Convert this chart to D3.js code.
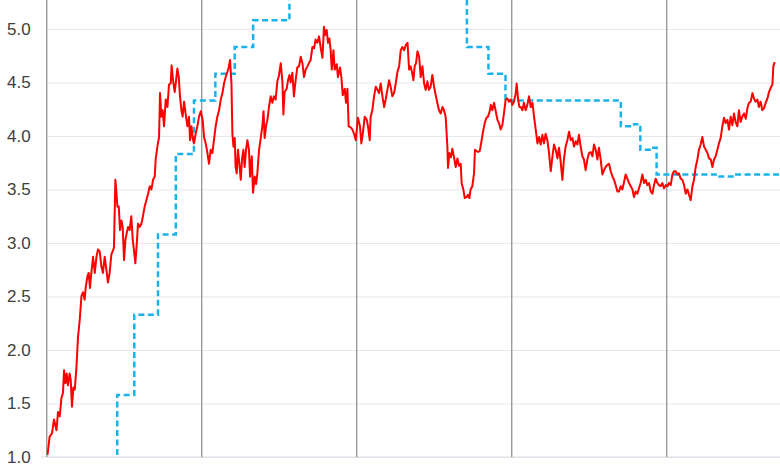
<!DOCTYPE html>
<html>
<head>
<meta charset="utf-8">
<script src="https://cdn.jsdelivr.net/npm/d3@7"></script>
<style>
  body { margin: 0; background: #fff; }
  svg { display: block; }
  .tick text { font-family: "Liberation Sans", Arial, sans-serif; font-size: 17px; fill: #404040; }
</style>
</head>
<body>
<svg id="chart" width="780" height="470"></svg>
<script>
'use strict';

// y axis ticks and year separators
const yTicks = [1.0, 1.5, 2.0, 2.5, 3.0, 3.5, 4.0, 4.5, 5.0];
const yearLines = [2023, 2024, 2025, 2026];

// policy rate (step line), decimal year of each change and the new level
const fedT = [2022.000, 2022.208, 2022.342, 2022.455, 2022.565, 2022.718, 2022.833, 2022.950,
  2023.088, 2023.213, 2023.332, 2023.566, 2024.711, 2024.850, 2024.960, 2025.704, 2025.790,
  2025.830, 2025.905, 2025.935, 2026.340, 2026.440, 2026.731];
const fedRate = [0.08, 0.33, 0.83, 1.58, 2.33, 3.08, 3.83, 4.33,
  4.58, 4.83, 5.08, 5.33, 4.83, 4.58, 4.33, 4.09, 4.11,
  3.87, 3.89, 3.64, 3.62, 3.64, 3.64];

// market yield, [decimal year, value]
const yieldPts = [
  [2022.005,1.02],[2022.019,1.19],[2022.034,1.22],[2022.047,1.35],[2022.063,1.25],[2022.073,1.42],[2022.084,1.38],[2022.095,1.55],
  [2022.105,1.60],[2022.112,1.81],[2022.121,1.69],[2022.129,1.78],[2022.137,1.67],[2022.148,1.78],[2022.155,1.72],[2022.163,1.47],
  [2022.172,1.65],[2022.181,1.63],[2022.192,1.84],[2022.202,2.12],[2022.213,2.28],[2022.224,2.50],[2022.234,2.54],[2022.245,2.47],
  [2022.252,2.59],[2022.263,2.69],[2022.271,2.72],[2022.279,2.58],[2022.288,2.72],[2022.299,2.87],[2022.310,2.72],[2022.321,2.87],
  [2022.331,2.94],[2022.342,2.92],[2022.353,2.78],[2022.363,2.72],[2022.374,2.87],[2022.385,2.75],[2022.395,2.63],[2022.406,2.72],
  [2022.417,2.89],[2022.428,2.93],[2022.434,2.96],[2022.443,3.59],[2022.450,3.47],[2022.456,3.34],[2022.465,3.34],[2022.473,3.12],
  [2022.482,3.21],[2022.490,3.15],[2022.499,2.84],[2022.508,3.03],[2022.516,3.09],[2022.525,3.15],[2022.535,3.12],[2022.546,3.25],
  [2022.555,3.03],[2022.563,2.93],[2022.572,2.81],[2022.581,2.99],[2022.589,3.18],[2022.600,3.15],[2022.611,3.18],[2022.621,3.25],
  [2022.632,3.34],[2022.643,3.40],[2022.654,3.46],[2022.665,3.53],[2022.676,3.50],[2022.686,3.59],[2022.697,3.62],
  [2022.703,3.78],[2022.714,3.90],[2022.725,3.99],[2022.731,4.40],[2022.740,4.18],[2022.748,4.24],[2022.757,4.09],[2022.768,4.34],
  [2022.779,4.27],[2022.789,4.48],[2022.800,4.49],[2022.806,4.66],[2022.815,4.52],[2022.826,4.41],[2022.837,4.55],[2022.843,4.63],
  [2022.852,4.55],[2022.860,4.37],[2022.869,4.24],[2022.877,4.18],[2022.886,4.32],[2022.897,4.20],[2022.908,4.09],[2022.918,4.18],
  [2022.925,3.96],[2022.934,4.09],[2022.942,3.98],[2022.950,3.93],[2022.961,4.02],[2022.972,4.09],[2022.983,4.18],[2022.994,4.23],
  [2023.006,4.15],[2023.015,3.99],[2023.026,3.93],[2023.037,3.84],[2023.047,3.74],[2023.058,3.87],[2023.069,3.84],[2023.079,3.96],
  [2023.090,4.09],[2023.101,4.18],[2023.112,4.24],[2023.123,4.34],[2023.134,4.40],[2023.144,4.49],[2023.155,4.55],[2023.166,4.60],
  [2023.174,4.64],[2023.183,4.71],[2023.192,4.49],[2023.198,4.02],[2023.205,3.90],[2023.213,3.98],[2023.219,3.71],[2023.226,3.65],
  [2023.234,3.87],[2023.243,3.74],[2023.252,3.59],[2023.260,3.78],[2023.269,3.87],[2023.277,3.71],[2023.286,3.87],[2023.295,3.96],
  [2023.305,3.87],[2023.312,3.62],[2023.323,3.81],[2023.331,3.47],[2023.342,3.62],[2023.351,3.55],[2023.359,3.65],[2023.370,3.87],
  [2023.381,3.98],[2023.392,4.10],[2023.399,4.23],[2023.406,3.98],[2023.415,4.09],[2023.424,4.15],[2023.434,4.27],[2023.445,4.37],
  [2023.456,4.31],[2023.466,4.37],[2023.477,4.34],[2023.488,4.51],[2023.498,4.56],[2023.510,4.68],[2023.521,4.50],[2023.527,4.20],
  [2023.535,4.41],[2023.548,4.44],[2023.557,4.52],[2023.566,4.57],[2023.574,4.50],[2023.585,4.59],[2023.595,4.37],[2023.606,4.52],
  [2023.617,4.64],[2023.628,4.65],[2023.639,4.74],[2023.650,4.68],[2023.660,4.55],[2023.671,4.62],[2023.682,4.65],[2023.692,4.68],
  [2023.703,4.71],[2023.714,4.83],[2023.725,4.82],[2023.735,4.90],[2023.746,4.87],[2023.757,4.93],[2023.768,4.82],[2023.779,4.73],
  [2023.789,5.02],[2023.795,4.94],[2023.806,4.99],[2023.815,4.87],[2023.824,4.91],[2023.832,4.80],[2023.839,4.62],[2023.850,4.80],
  [2023.858,4.62],[2023.871,4.67],[2023.879,4.55],[2023.892,4.64],[2023.901,4.55],[2023.910,4.38],[2023.923,4.44],[2023.931,4.31],
  [2023.940,4.44],[2023.948,4.09],[2023.961,4.08],[2023.972,4.06],[2023.983,4.02],[2023.994,3.96],[2024.008,4.17],[2024.021,4.09],
  [2024.030,3.93],[2024.039,4.02],[2024.052,4.18],[2024.065,4.15],[2024.073,4.09],[2024.084,3.96],[2024.090,4.18],[2024.101,4.24],
  [2024.112,4.37],[2024.123,4.46],[2024.134,4.43],[2024.144,4.40],[2024.155,4.49],[2024.166,4.37],[2024.177,4.27],[2024.187,4.34],
  [2024.198,4.43],[2024.209,4.52],[2024.219,4.46],[2024.230,4.37],[2024.241,4.40],[2024.252,4.49],[2024.263,4.60],[2024.274,4.65],
  [2024.284,4.80],[2024.295,4.83],[2024.306,4.80],[2024.317,4.85],[2024.328,4.87],[2024.338,4.62],[2024.348,4.65],[2024.359,4.58],
  [2024.366,4.52],[2024.374,4.65],[2024.383,4.68],[2024.392,4.79],[2024.403,4.74],[2024.413,4.55],[2024.424,4.65],[2024.435,4.49],
  [2024.445,4.43],[2024.456,4.51],[2024.466,4.43],[2024.477,4.46],[2024.488,4.57],[2024.499,4.46],[2024.510,4.38],[2024.520,4.31],
  [2024.531,4.24],[2024.542,4.21],[2024.553,4.27],[2024.563,4.24],[2024.574,4.18],[2024.585,3.90],[2024.589,3.70],[2024.598,3.84],
  [2024.608,3.80],[2024.617,3.88],[2024.628,3.80],[2024.639,3.71],[2024.650,3.79],[2024.660,3.72],[2024.671,3.74],[2024.677,3.56],
  [2024.688,3.50],[2024.697,3.42],[2024.710,3.43],[2024.718,3.45],[2024.727,3.42],[2024.735,3.50],[2024.746,3.53],[2024.757,3.65],
  [2024.763,3.87],[2024.772,3.86],[2024.783,3.85],[2024.794,3.86],[2024.805,3.95],[2024.815,4.04],[2024.826,4.12],[2024.837,4.17],
  [2024.847,4.18],[2024.858,4.23],[2024.865,4.29],[2024.875,4.24],[2024.886,4.31],[2024.897,4.23],[2024.908,4.15],[2024.918,4.12],
  [2024.929,4.06],[2024.940,4.10],[2024.950,4.21],[2024.961,4.34],[2024.972,4.35],[2024.983,4.32],[2024.994,4.34],[2025.004,4.29],
  [2025.015,4.32],[2025.026,4.40],[2025.032,4.49],[2025.041,4.34],[2025.050,4.27],[2025.058,4.27],[2025.069,4.24],[2025.079,4.31],
  [2025.090,4.24],[2025.101,4.29],[2025.112,4.37],[2025.123,4.27],[2025.134,4.31],[2025.144,4.18],[2025.155,4.06],[2025.166,3.93],
  [2025.177,3.99],[2025.187,3.92],[2025.198,4.01],[2025.208,3.93],[2025.219,4.02],[2025.230,3.96],[2025.241,3.84],[2025.252,3.67],
  [2025.263,3.81],[2025.273,3.92],[2025.284,3.87],[2025.295,3.79],[2025.305,3.89],[2025.316,3.76],[2025.327,3.59],[2025.337,3.78],
  [2025.348,3.90],[2025.359,3.96],[2025.370,4.04],[2025.381,3.96],[2025.392,3.98],[2025.402,3.90],[2025.413,3.95],[2025.424,3.92],
  [2025.434,4.01],[2025.445,3.90],[2025.456,3.81],[2025.466,3.78],[2025.477,3.68],[2025.488,3.78],[2025.499,3.84],[2025.510,3.85],
  [2025.521,3.81],[2025.531,3.92],[2025.542,3.87],[2025.553,3.78],[2025.563,3.89],[2025.574,3.78],[2025.585,3.64],[2025.596,3.68],
  [2025.606,3.71],[2025.617,3.73],[2025.628,3.74],[2025.639,3.67],[2025.650,3.62],[2025.660,3.59],[2025.671,3.54],[2025.682,3.48],
  [2025.692,3.48],[2025.703,3.53],[2025.714,3.50],[2025.725,3.57],[2025.735,3.64],[2025.746,3.60],[2025.757,3.56],[2025.768,3.53],
  [2025.779,3.50],[2025.789,3.43],[2025.800,3.48],[2025.811,3.46],[2025.821,3.51],[2025.832,3.56],[2025.843,3.64],[2025.854,3.56],
  [2025.865,3.59],[2025.875,3.54],[2025.886,3.56],[2025.897,3.48],[2025.908,3.46],[2025.918,3.54],[2025.929,3.60],[2025.940,3.56],
  [2025.950,3.54],[2025.961,3.53],[2025.972,3.56],[2025.983,3.51],[2025.994,3.54],[2026.005,3.53],[2026.015,3.56],[2026.026,3.54],
  [2026.037,3.64],[2026.047,3.67],[2026.058,3.67],[2026.069,3.64],[2026.079,3.65],[2026.090,3.60],[2026.101,3.59],[2026.112,3.54],
  [2026.123,3.46],[2026.134,3.50],[2026.144,3.45],[2026.155,3.40],[2026.166,3.53],[2026.176,3.59],[2026.187,3.71],[2026.198,3.78],
  [2026.208,3.87],[2026.219,3.92],[2026.230,3.99],[2026.241,3.90],[2026.252,3.87],[2026.263,3.84],[2026.273,3.79],[2026.284,3.78],
  [2026.295,3.71],[2026.305,3.78],[2026.316,3.81],[2026.327,3.87],[2026.337,3.93],[2026.348,3.98],[2026.359,4.09],[2026.370,4.17],
  [2026.381,4.12],[2026.392,4.15],[2026.402,4.06],[2026.413,4.18],[2026.424,4.10],[2026.434,4.21],[2026.445,4.13],[2026.456,4.09],
  [2026.466,4.24],[2026.477,4.13],[2026.488,4.18],[2026.499,4.21],[2026.510,4.16],[2026.521,4.26],[2026.531,4.31],[2026.542,4.32],
  [2026.553,4.40],[2026.563,4.35],[2026.574,4.32],[2026.585,4.34],[2026.595,4.27],[2026.606,4.32],[2026.617,4.24],[2026.628,4.26],
  [2026.639,4.31],[2026.650,4.35],[2026.660,4.41],[2026.671,4.45],[2026.682,4.48],[2026.688,4.65],[2026.697,4.69]
];

const W = 780, H = 470;
const left = 46.7, bottom = 457;

const svg = d3.select("#chart");

const x = d3.scaleLinear().domain([2022, 2026.731]).range([left, W]);
const y = d3.scaleLinear().domain([1, 5.27]).range([bottom, 0]);

svg.append("defs").append("clipPath").attr("id", "plot-clip")
  .append("rect")
  .attr("x", left).attr("y", 0)
  .attr("width", W - left).attr("height", bottom);

// horizontal grid
const grid = svg.append("g")
  .attr("transform", "translate(" + left + ",0)")
  .call(d3.axisLeft(y).tickValues(yTicks).tickSize(-(W - left)).tickFormat(""));
grid.select(".domain").remove();
grid.selectAll(".tick line").attr("stroke", "#e4e7ee").attr("stroke-width", 1);

// bottom baseline pokes out a little to the left
svg.append("line")
  .attr("x1", left - 6).attr("x2", W)
  .attr("y1", y(1)).attr("y2", y(1))
  .attr("stroke", "#d9dce4").attr("stroke-width", 1);

// tick labels
const labels = svg.append("g")
  .attr("transform", "translate(" + left + ",0)")
  .call(d3.axisLeft(y).tickValues(yTicks).tickSize(0).tickPadding(16).tickFormat(d3.format(".1f")));
labels.select(".domain").remove();

// year separators
svg.append("g").selectAll("line")
  .data(yearLines)
  .join("line")
  .attr("x1", d => x(d)).attr("x2", d => x(d))
  .attr("y1", 0).attr("y2", bottom)
  .attr("stroke", "#9a9a9a").attr("stroke-width", 1.4);

// y axis line
svg.append("line")
  .attr("x1", left).attr("x2", left)
  .attr("y1", 0).attr("y2", bottom)
  .attr("stroke", "#9a9a9a").attr("stroke-width", 1.4);

const plot = svg.append("g").attr("clip-path", "url(#plot-clip)");

const fedLine = d3.line()
  .x((d, i) => x(fedT[i]))
  .y(d => y(d))
  .curve(d3.curveStepAfter);

const yieldLine = d3.line()
  .x(d => x(d[0]))
  .y(d => y(d[1]));

plot.append("path")
  .datum(fedRate)
  .attr("d", fedLine)
  .attr("fill", "none")
  .attr("stroke", "#1ab2ea")
  .attr("stroke-width", 2.5)
  .attr("stroke-dasharray", "6,3.5");

plot.append("path")
  .datum(yieldPts)
  .attr("d", yieldLine)
  .attr("fill", "none")
  .attr("stroke", "#ff0000")
  .attr("stroke-width", 2)
  .attr("stroke-linejoin", "round");
</script>
</body>
</html>
